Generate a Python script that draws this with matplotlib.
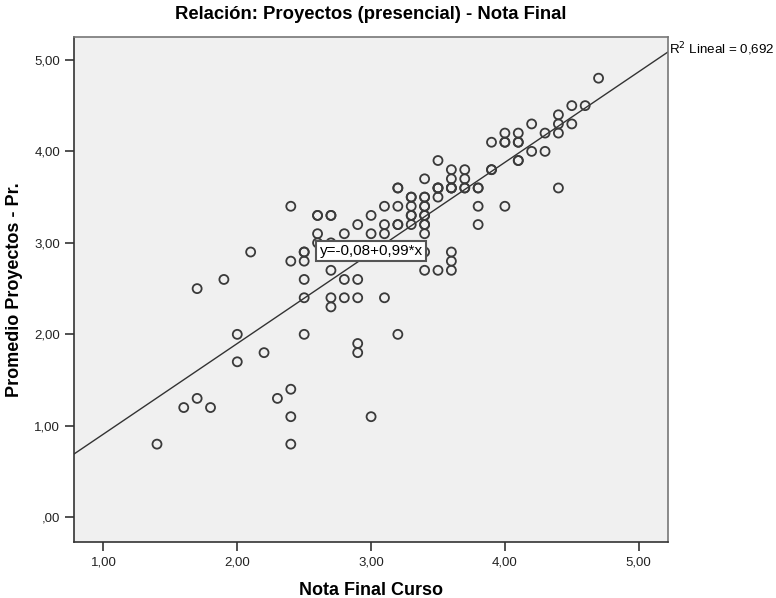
import matplotlib
matplotlib.use("Agg")
import matplotlib.pyplot as plt
import numpy as np

plt.rcParams['font.family'] = ['Liberation Sans', 'DejaVu Sans']

# Nota Final Curso (x) vs Promedio Proyectos - Pr. (y)
nota_final = [1.4, 1.6, 1.7, 1.8, 1.7, 1.9, 2.0, 2.0, 2.1, 2.2, 2.3, 2.4, 2.4, 2.4, 2.4, 2.4,
              2.5, 2.5, 2.5, 2.5, 2.5, 2.5, 2.6, 2.6, 2.6, 2.6, 2.7, 2.7, 2.7, 2.7, 2.7, 2.7,
              2.8, 2.8, 2.8, 2.9, 2.9, 2.9, 2.9, 2.9, 3.0, 3.0, 3.0, 3.1, 3.1, 3.1, 3.1,
              3.2, 3.2, 3.2, 3.2, 3.2, 3.2, 3.3, 3.3, 3.3, 3.3, 3.3, 3.3,
              3.4, 3.4, 3.4, 3.4, 3.4, 3.4, 3.4, 3.4, 3.4, 3.4, 3.4, 3.4,
              3.5, 3.5, 3.5, 3.5, 3.5, 3.5, 3.6, 3.6, 3.6, 3.6, 3.6, 3.6, 3.6, 3.6,
              3.7, 3.7, 3.7, 3.7, 3.8, 3.8, 3.8, 3.8, 3.9, 3.9, 3.9, 4.0, 4.0, 4.0, 4.0,
              4.1, 4.1, 4.1, 4.1, 4.1, 4.2, 4.2, 4.3, 4.3, 4.4, 4.4, 4.4, 4.4, 4.5, 4.5,
              4.6, 4.7]
promedio_proy = [0.8, 1.2, 1.3, 1.2, 2.5, 2.6, 1.7, 2.0, 2.9, 1.8, 1.3, 0.8, 1.1, 1.4, 2.8, 3.4,
                 2.0, 2.4, 2.6, 2.8, 2.9, 2.9, 3.0, 3.1, 3.3, 3.3, 2.3, 2.4, 2.7, 3.0, 3.3, 3.3,
                 2.4, 2.6, 3.1, 1.8, 1.9, 2.4, 2.6, 3.2, 1.1, 3.1, 3.3, 2.4, 3.1, 3.2, 3.4,
                 2.0, 3.2, 3.2, 3.4, 3.6, 3.6, 3.2, 3.3, 3.4, 3.5, 3.5, 3.3,
                 2.7, 2.9, 3.1, 3.2, 3.3, 3.4, 3.5, 3.5, 3.7, 3.2, 3.3, 3.4,
                 2.7, 3.5, 3.6, 3.6, 3.9, 3.6, 2.7, 2.8, 2.9, 3.6, 3.6, 3.7, 3.8, 3.6,
                 3.6, 3.6, 3.7, 3.8, 3.2, 3.4, 3.6, 3.6, 3.8, 3.8, 4.1, 3.4, 4.1, 4.1, 4.2,
                 3.9, 3.9, 4.1, 4.1, 4.2, 4.0, 4.3, 4.0, 4.2, 3.6, 4.2, 4.3, 4.4, 4.3, 4.5,
                 4.5, 4.8]

intercept, slope = -0.08, 0.99
r2 = "0,692"
xticks = [1, 2, 3, 4, 5]
yticks = [0, 1, 2, 3, 4, 5]


def comma(v):
    s = "%.2f" % v
    if s.startswith("0"):
        s = s[1:]
    return s.replace(".", ",")


fig = plt.figure(figsize=(7.76, 5.98), dpi=100)
ax = fig.add_axes([0.0954, 0.0936, 0.7656, 0.8445])
ax.set_facecolor("#f0f0f0")

ax.scatter(nota_final, promedio_proy, s=42, facecolors="none", edgecolors="#3a3a3a",
           linewidths=1.3, zorder=3)

xl = (0.78, 5.22)
ax.set_xlim(xl)
ax.set_ylim(-0.27, 5.25)
xs = np.array(xl)
ax.plot(xs, intercept + slope * xs, color="#333333", lw=1.0, zorder=2)

ax.text(3.0, 2.91, "y=-0,08+0,99*x", ha="center", va="center", fontsize=11, zorder=5,
        bbox=dict(boxstyle="square,pad=0.2", fc="white", ec="#555555", lw=1.5))

ax.text(1.002, 0.975, "R$^2$ Lineal = " + r2, transform=ax.transAxes, fontsize=9.6,
        ha="left", va="center")

ax.set_xticks(xticks)
ax.set_xticklabels([comma(v) for v in xticks])
ax.set_yticks(yticks)
ax.set_yticklabels([comma(v) for v in yticks])
ax.tick_params(direction="out", length=6.5, width=1.2, color="#333333", labelsize=9.5,
               labelcolor="#222222")
ax.tick_params(axis="x", pad=4)
for sp in ax.spines.values():
    sp.set_color("#333333")
    sp.set_linewidth(1.2)
ax.spines["top"].set_color("#777777")
ax.spines["right"].set_color("#777777")

ax.set_title("Relación: Proyectos (presencial) - Nota Final", fontsize=13.3,
             fontweight="bold", pad=13)
ax.set_xlabel("Nota Final Curso", fontsize=13, fontweight="bold", labelpad=10)
ax.set_ylabel("Promedio Proyectos - Pr.", fontsize=13, fontweight="bold", labelpad=8)

fig.savefig("out.png", dpi=100)
